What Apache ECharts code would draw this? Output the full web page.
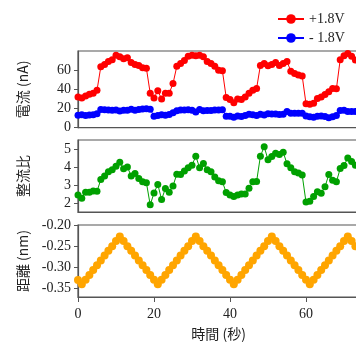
<!DOCTYPE html>
<html lang="ja">
<head>
<meta charset="UTF-8">
<title>電流・整流比・距離</title>
<script src="https://cdn.jsdelivr.net/npm/echarts@6/dist/echarts.min.js"></script>
<style>
    html, body { margin: 0; padding: 0; background: #fff; }
    #main { width: 356px; height: 342px; }
</style>
</head>
<body>
<div id="main"></div>
<script>
    // 時間 (秒)
    var time = [0,1,2,3,4,5,6,7,8,9,10,11,12,13,14,15,16,17,18,19,
        20,21,22,23,24,25,26,27,28,29,30,31,32,33,34,35,36,37,38,39,
        40,41,42,43,44,45,46,47,48,49,50,51,52,53,54,55,56,57,58,59,
        60,61,62,63,64,65,66,67,68,69,70,71,72,73];
    // 電流 +1.8V (nA)
    var currentPlus = [32,31,33,35,36,39,63.5,66,69,71,
        75.5,74,72,73,68,66,65,62.5,62,36,
        31,38.5,30,36,36,46,64,67,70,74.5,
        75.5,75,75.5,74,69,67,64,60,59.5,31.5,
        29.5,26,30,29.5,32,36,39,41,65,67,
        64.5,66,68,65,67,69,59,56.5,55,54,
        25,24.5,25.5,30.5,32,34.5,37.5,41,40.5,71,
        75,77.5,74.5,70.5];
    // 電流 -1.8V (nA)
    var currentMinus = [13,13.5,12.7,13.3,13.4,14.5,19,18.8,18.5,18.3,
        18.5,17.3,18.3,18.2,19.2,18.1,19,19.5,19.7,19.2,
        12,12.7,13.5,13,13.7,15.5,17.7,18.5,18.5,18.6,
        18.3,16.5,19,17.7,18,18,18.4,18.5,18.6,12,
        12,11,12.2,11.8,12.6,14,13.5,12.8,14,13.2,
        14.5,14.3,14.2,13.8,14,16.8,15,15,15,15.2,
        12.3,11.5,11,12,12.2,11.7,10.5,11.5,12.8,18,
        18.2,17,17,17];
    // 整流比
    var ratio = [2.45,2.27,2.6,2.6,2.67,2.65,3.3,3.5,3.73,3.85,
        4.04,4.27,3.9,4.0,3.5,3.64,3.36,3.18,3.13,1.9,
        2.55,3.03,2.2,2.8,2.6,2.95,3.6,3.58,3.78,3.96,
        4.1,4.6,3.96,4.2,3.85,3.73,3.45,3.24,3.18,2.58,
        2.45,2.36,2.45,2.5,2.5,2.82,3.18,3.2,4.6,5.13,
        4.4,4.58,4.76,4.7,4.82,4.18,3.96,3.73,3.67,3.55,
        2.05,2.1,2.36,2.63,2.54,2.9,3.58,3.27,3.18,3.91,
        4.09,4.5,4.3,4.1];
    // 距離 (nm)
    var distance = [-0.330,-0.340,-0.329,-0.318,-0.306,-0.295,-0.284,-0.272,-0.261,-0.250,-0.238,-0.227,
        -0.238,-0.250,-0.261,-0.272,-0.284,-0.295,-0.306,-0.318,-0.329,-0.340,
        -0.329,-0.318,-0.306,-0.295,-0.284,-0.272,-0.261,-0.250,-0.238,-0.227,
        -0.238,-0.250,-0.261,-0.272,-0.284,-0.295,-0.306,-0.318,-0.329,-0.340,
        -0.329,-0.318,-0.306,-0.295,-0.284,-0.272,-0.261,-0.250,-0.238,-0.227,
        -0.238,-0.250,-0.261,-0.272,-0.284,-0.295,-0.306,-0.318,-0.329,-0.340,
        -0.329,-0.318,-0.306,-0.295,-0.284,-0.272,-0.261,-0.250,-0.238,-0.227,
        -0.238,-0.250];

    var xTicks = [0, 20, 40, 60];
    var currentTicks = [0, 20, 40, 60];
    var ratioTicks = [2, 3, 4, 5];
    var distTicks = [-0.35, -0.30, -0.25, -0.20];

    var serif = 'Liberation Serif';
    var cjk = 'Noto Sans CJK JP';
    var frame = '#555';

    function pairs(ys) {
        return ys.map(function (v, i) { return [time[i], v]; });
    }

    function xAxisFor(idx, withLabels) {
        return {
            type: 'value', gridIndex: idx, min: 0, max: 74,
            splitLine: { show: false },
            axisLine: { show: true, onZero: false, lineStyle: { color: frame, width: 1.2 } },
            axisTick: { show: withLabels, length: 5, customValues: xTicks, lineStyle: { color: frame } },
            axisLabel: {
                show: withLabels, customValues: xTicks, margin: 10,
                fontFamily: serif, fontSize: 14, color: '#222'
            },
            name: withLabels ? '時間 (秒)' : '',
            nameLocation: 'middle', nameGap: 30,
            nameTextStyle: { fontFamily: cjk, fontSize: 14, color: '#222' }
        };
    }

    function yAxisFor(idx, min, max, ticks, name, fmt) {
        return {
            type: 'value', gridIndex: idx, min: min, max: max,
            splitLine: { show: false },
            axisLine: { show: true, onZero: false, lineStyle: { color: frame, width: 1.2 } },
            axisTick: { show: true, length: 4, customValues: ticks, lineStyle: { color: frame } },
            axisLabel: {
                customValues: ticks, margin: 7,
                fontFamily: serif, fontSize: 14, color: '#222',
                formatter: fmt
            },
            name: name, nameLocation: 'middle', nameGap: 48, nameRotate: 90,
            nameTextStyle: { fontFamily: cjk, fontSize: 14, color: '#222' }
        };
    }

    // 右端は画面外まで伸ばす (元図は右側が切れている)
    function gridAt(top, height) {
        return {
            left: 78, top: top, width: 281.2, height: height,
            outerBoundsMode: 'none', containLabel: false,
            show: true, borderColor: frame, borderWidth: 1.2, backgroundColor: '#fff'
        };
    }

    var chart = echarts.init(document.getElementById('main'), null, { renderer: 'canvas' });

    var option = {
        animation: false,
        backgroundColor: '#fff',
        legend: {
            orient: 'vertical', left: 277, top: 12, padding: 0,
            itemWidth: 26, itemHeight: 12, itemGap: 5,
            textStyle: { fontFamily: serif, fontSize: 14, color: '#222' },
            data: ['+1.8V', '- 1.8V']
        },
        grid: [gridAt(51, 76.7), gridAt(140, 72), gridAt(225, 72)],
        xAxis: [xAxisFor(0, false), xAxisFor(1, false), xAxisFor(2, true)],
        yAxis: [
            yAxisFor(0, 0, 80, currentTicks, '電流 (nA)'),
            yAxisFor(1, 1.5, 5.5, ratioTicks, '整流比'),
            yAxisFor(2, -0.37, -0.20, distTicks, '距離 (nm)', function (v) { return v.toFixed(2); })
        ],
        series: [
            {
                name: '+1.8V', type: 'line', xAxisIndex: 0, yAxisIndex: 0,
                data: pairs(currentPlus), symbol: 'circle', symbolSize: 7,
                itemStyle: { color: '#ff0000' }, lineStyle: { color: '#ff0000', width: 1 }
            },
            {
                name: '- 1.8V', type: 'line', xAxisIndex: 0, yAxisIndex: 0,
                data: pairs(currentMinus), symbol: 'circle', symbolSize: 7,
                itemStyle: { color: '#0000ff' }, lineStyle: { color: '#0000ff', width: 1 }
            },
            {
                name: '整流比', type: 'line', xAxisIndex: 1, yAxisIndex: 1,
                data: pairs(ratio), symbol: 'circle', symbolSize: 7,
                itemStyle: { color: '#00a000' }, lineStyle: { color: '#00a000', width: 1 }
            },
            {
                name: '距離', type: 'line', xAxisIndex: 2, yAxisIndex: 2,
                data: pairs(distance), symbol: 'circle', symbolSize: 8,
                itemStyle: { color: '#ffa500' }, lineStyle: { color: '#ffa500', width: 1 }
            }
        ]
    };

    chart.setOption(option);
</script>
</body>
</html>
